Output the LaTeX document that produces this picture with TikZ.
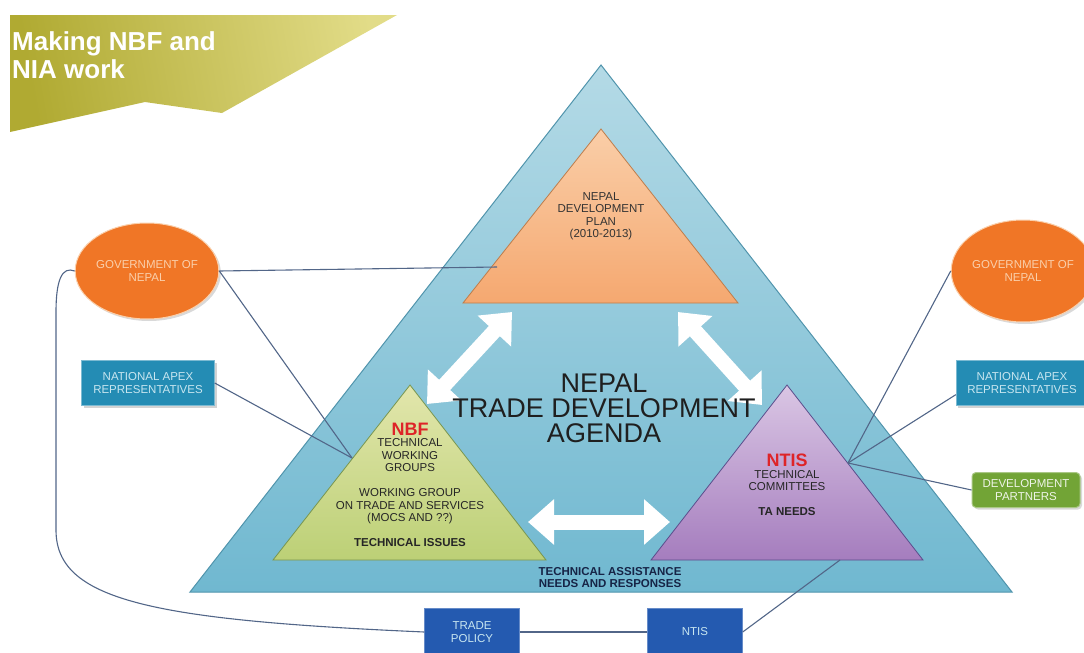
\documentclass[tikz,border=0pt]{standalone}
\usepackage{fontspec}
\setmainfont{Liberation Sans}
\usetikzlibrary{arrows.meta,shapes.geometric,shadows}

\definecolor{bannerdark}{RGB}{176,170,50}
\definecolor{bannerlight}{RGB}{226,220,136}
\definecolor{agendatop}{RGB}{180,218,230}
\definecolor{agendabot}{RGB}{112,184,208}
\definecolor{agendaline}{RGB}{80,148,172}
\definecolor{plantop}{RGB}{250,206,168}
\definecolor{planbot}{RGB}{245,168,112}
\definecolor{planline}{RGB}{190,125,75}
\definecolor{nbftop}{RGB}{226,230,172}
\definecolor{nbfbot}{RGB}{188,208,118}
\definecolor{nbfline}{RGB}{120,150,80}
\definecolor{ntistop}{RGB}{218,198,228}
\definecolor{ntisbot}{RGB}{165,125,190}
\definecolor{ntisline}{RGB}{90,78,140}
\definecolor{hotred}{RGB}{222,36,40}
\definecolor{govorange}{RGB}{240,118,38}
\definecolor{govtext}{RGB}{250,208,172}
\definecolor{apexblue}{RGB}{36,140,180}
\definecolor{apextext}{RGB}{200,230,240}
\definecolor{devgreen}{RGB}{114,164,54}
\definecolor{policyblue}{RGB}{36,90,176}
\definecolor{linkgray}{RGB}{82,102,136}
\definecolor{navytext}{RGB}{22,36,70}

\begin{document}
\begin{tikzpicture}[x=1pt,y=-1pt,
  small/.style={font=\fontsize{11.5}{12.5}\selectfont,align=center},
  link/.style={draw=linkgray,line width=1.1pt},
  twoway/.style={draw=white,line width=15pt,
    {Triangle[length=26pt,width=44pt]}-{Triangle[length=26pt,width=44pt]}},
  govt/.style={ellipse,small,fill=govorange,draw=govtext,line width=1pt,
    text=govtext,inner sep=0pt,drop shadow={opacity=0.3,shadow xshift=2pt,shadow yshift=-2pt}},
  apex/.style={rectangle,small,fill=apexblue,draw=apexblue!60!white,text=apextext,
    minimum height=45pt,inner sep=0pt,drop shadow={opacity=0.35,shadow xshift=2pt,shadow yshift=-2pt}},
  policy/.style={rectangle,small,fill=policyblue,draw=policyblue!70!white,text=apextext,
    minimum width=95pt,minimum height=48pt,inner sep=0pt}]
\useasboundingbox (0,0) rectangle (1084,653);

% title banner
\shade[left color=bannerdark,right color=bannerlight,shading angle=100]
  (10,15) -- (397,15) -- (222,113) -- (145,102) -- (10,132) -- cycle;
\node[anchor=north west,inner sep=0pt,align=left,text=white,
  font=\bfseries\fontsize{26}{28}\selectfont] (title) at (12,31) {Making NBF and\\NIA work};

% the agenda triangle
\shade[top color=agendatop,bottom color=agendabot,draw=agendaline,line width=1pt]
  (601,65) -- (1012,592) -- (190,592) -- cycle;

% points where the links meet the inner triangles
\coordinate (planL) at (497,267);
\coordinate (nbfL) at (352,458);
\coordinate (ntisR) at (848,463);
\coordinate (ntisB) at (840,560);

% inner triangles
\shade[top color=plantop,bottom color=planbot,draw=planline,line width=0.8pt]
  (601,129) -- (738,303) -- (463,303) -- cycle;
\shade[top color=nbftop,bottom color=nbfbot,draw=nbfline,line width=0.8pt]
  (410,385) -- (546,560) -- (273,560) -- cycle;
\shade[top color=ntistop,bottom color=ntisbot,draw=ntisline,line width=0.8pt]
  (787,385) -- (923,560) -- (651,560) -- cycle;

% two-way arrows
\coordinate (a1) at (427,404);
\coordinate (a2) at (512,312);
\coordinate (a3) at (678,312);
\coordinate (a4) at (762,405);
\coordinate (a5) at (528,522);
\coordinate (a6) at (670,522);
\draw[twoway] (a1) -- (a2);
\draw[twoway] (a3) -- (a4);
\draw[twoway] (a5) -- (a6);

% texts inside the triangles
\node[small,text=black!80] (plan) at (601,216) {NEPAL\\DEVELOPMENT\\PLAN\\(2010-2013)};
\node[align=center,text=black!88,font=\fontsize{27}{25}\selectfont] (agenda) at (604,408)
  {NEPAL\\TRADE DEVELOPMENT\\AGENDA};
\node[text=hotred,font=\bfseries\fontsize{18}{18}\selectfont] (nbf) at (410,429) {NBF};
\node[small,text=black!85] (nbftext) at (410,493)
  {TECHNICAL\\WORKING\\GROUPS\\[12.5pt]WORKING GROUP\\ON TRADE AND SERVICES\\(MOCS AND ??)\\[12.5pt]\textbf{TECHNICAL ISSUES}};
\node[text=hotred,font=\bfseries\fontsize{18}{18}\selectfont] (ntis) at (787,460) {NTIS};
\node[small,text=black!85] (ntistext) at (787,493) {TECHNICAL\\COMMITTEES\\[12pt]\textbf{TA NEEDS}};
\node[small,text=navytext,font=\bfseries\fontsize{11.5}{12}\selectfont] (assist) at (610,578)
  {TECHNICAL ASSISTANCE\\NEEDS AND RESPONSES};

% outside bodies
\node[govt,minimum width=128pt,minimum height=96pt] (govL) at (147,271) {GOVERNMENT OF\\NEPAL};
\node[govt,minimum width=124pt,minimum height=102pt] (govR) at (1023,271) {GOVERNMENT OF\\NEPAL};
\node[apex,minimum width=133pt] (apexL) at (148,383) {NATIONAL APEX\\REPRESENTATIVES};
\node[apex,minimum width=132pt] (apexR) at (1022,383) {NATIONAL APEX\\REPRESENTATIVES};
\node[small,rectangle,rounded corners=4pt,fill=devgreen,draw=devgreen!60!white,line width=1pt,
  text=white!88!devgreen,minimum width=108pt,minimum height=35pt,inner sep=0pt,
  drop shadow={opacity=0.3,shadow xshift=2pt,shadow yshift=-2pt}] (devp) at (1026,490)
  {DEVELOPMENT\\PARTNERS};
\node[policy] (trade) at (472,632) {TRADE\\POLICY};
\node[policy] (ntisbox) at (695,632) {NTIS};

% links
\draw[link] (govL.east) -- (planL);
\draw[link] (govL.east) -- (nbfL);
\draw[link] (apexL.east) -- (nbfL);
\draw[link] (govL.west) .. controls (62,266) and (56,280) .. (56,312)
  -- (56,530) .. controls (56,600) and (150,620) .. (trade.west);
\draw[link] (trade.east) -- (ntisbox.west);
\draw[link] (ntisbox.east) -- (ntisB);
\draw[link] (ntisR) -- (govR.west);
\draw[link] (ntisR) -- (apexR.190);
\draw[link] (ntisR) -- (devp.west);
\end{tikzpicture}
\end{document}
